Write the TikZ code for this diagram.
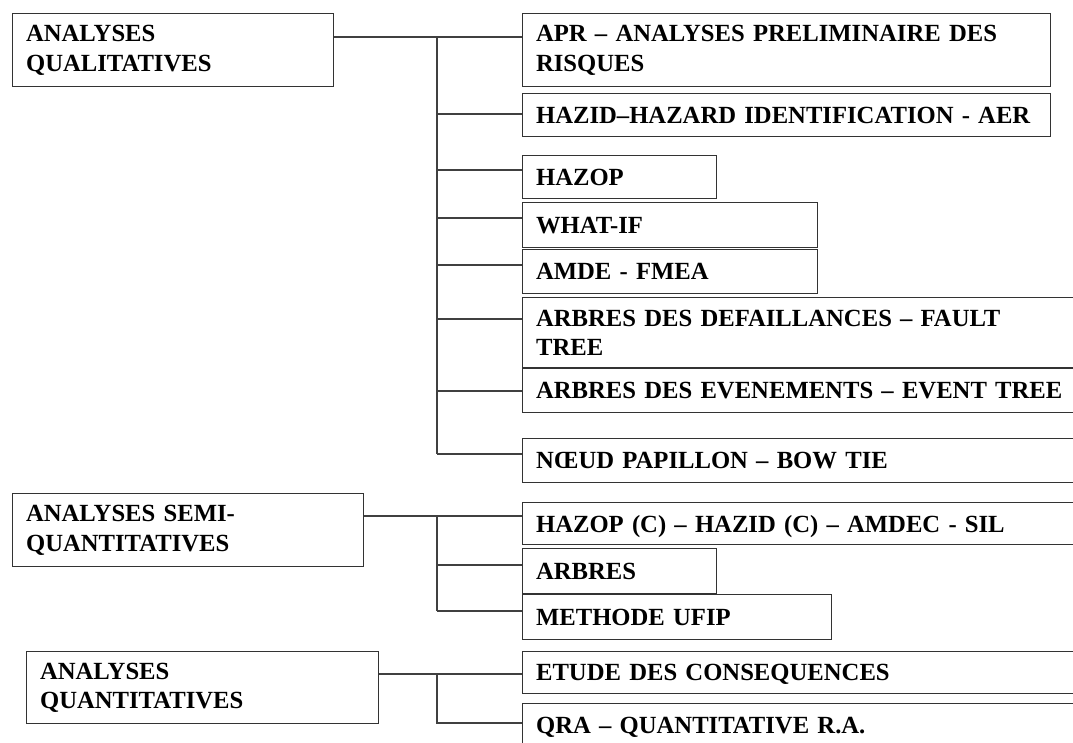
\documentclass[tikz,border=0pt]{standalone}
\usepackage{fontspec}
\setmainfont{Liberation Serif}

\begin{document}
\begin{tikzpicture}[x=0.75pt,y=-0.75pt,
    box/.style={draw=black!80, line width=1.1pt, anchor=north west,
      inner xsep=10pt, inner ysep=0pt, align=left,
      font=\bfseries\fontsize{18.5}{22}\selectfont},
    one/.style={text depth=0pt},
    link/.style={draw=black!75, line width=0.9pt}]
  \useasboundingbox (0,0) rectangle (1073,742);
  \clip (0,0) rectangle (1073,742);

  % families of analyses
  \node[box, text width=220.75pt, minimum height=54.75pt] (qual) at (12,13) {ANALYSES\\QUALITATIVES};
  \node[box, text width=243.25pt, minimum height=54.75pt] (semi) at (12,493) {ANALYSES SEMI-\\QUANTITATIVES};
  \node[box, text width=244pt, minimum height=54pt] (quant) at (26,651) {ANALYSES\\QUANTITATIVES};

  % qualitative methods
  \node[box, text width=376pt, minimum height=54.75pt] (apr) at (522,13) {APR -- ANALYSES PRELIMINAIRE DES\\RISQUES};
  \node[box, one, text width=376pt, minimum height=32.25pt] (hazid) at (522,93) {\mbox{HAZID--HAZARD IDENTIFICATION - AER}};
  \node[box, one, text width=125.5pt, minimum height=32.25pt] (hazop) at (522,155) {HAZOP};
  \node[box, one, text width=201.25pt, minimum height=33.75pt] (whatif) at (522,202) {WHAT-IF};
  \node[box, one, text width=201.25pt, minimum height=33pt] (amde) at (522,249) {AMDE - FMEA};
  \node[box, text width=415pt, minimum height=52.5pt] (fault) at (522,297) {ARBRES DES DEFAILLANCES -- FAULT\\TREE};
  \node[box, one, text width=415pt, minimum height=33pt] (event) at (522,368) {ARBRES DES EVENEMENTS -- EVENT TREE};
  \node[box, one, text width=415pt, minimum height=33pt] (bow) at (522,438) {N\OE{}UD PAPILLON -- BOW TIE};

  % semi-quantitative methods
  \node[box, one, text width=415pt, minimum height=31.5pt] (hazopc) at (522,502) {HAZOP (C) -- HAZID (C) -- AMDEC - SIL};
  \node[box, one, text width=125.5pt, minimum height=33.75pt] (arbres) at (522,548) {ARBRES};
  \node[box, one, text width=211.75pt, minimum height=33.75pt] (ufip) at (522,594) {METHODE UFIP};

  % quantitative methods
  \node[box, one, text width=415pt, minimum height=31.5pt] (etude) at (522,651) {ETUDE DES CONSEQUENCES};
  \node[box, one, text width=415pt, minimum height=32.25pt] (qra) at (522,703) {QRA -- QUANTITATIVE R.A.};

  % tree of the qualitative group
  \coordinate (t1) at (437,37);
  \coordinate (b1) at (437,454);
  \draw[link] (qual.east |- t1) -- (apr.west |- t1);
  \draw[link] (t1) -- (b1);
  \foreach \b/\y in {hazid/114, hazop/170, whatif/218, amde/265, fault/319, event/391, bow/454} {
    \coordinate (br) at (437,\y);
    \draw[link] (br) -- (br -| \b.west);
  }

  % tree of the semi-quantitative group
  \coordinate (t2) at (437,516);
  \coordinate (b2) at (437,611);
  \draw[link] (semi.east |- t2) -- (hazopc.west |- t2);
  \draw[link] (t2) -- (b2);
  \foreach \b/\y in {arbres/565, ufip/611} {
    \coordinate (br) at (437,\y);
    \draw[link] (br) -- (br -| \b.west);
  }

  % tree of the quantitative group
  \coordinate (t3) at (437,674);
  \coordinate (b3) at (437,723);
  \draw[link] (quant.east |- t3) -- (etude.west |- t3);
  \draw[link] (t3) -- (b3) -- (b3 -| qra.west);
\end{tikzpicture}
\end{document}
